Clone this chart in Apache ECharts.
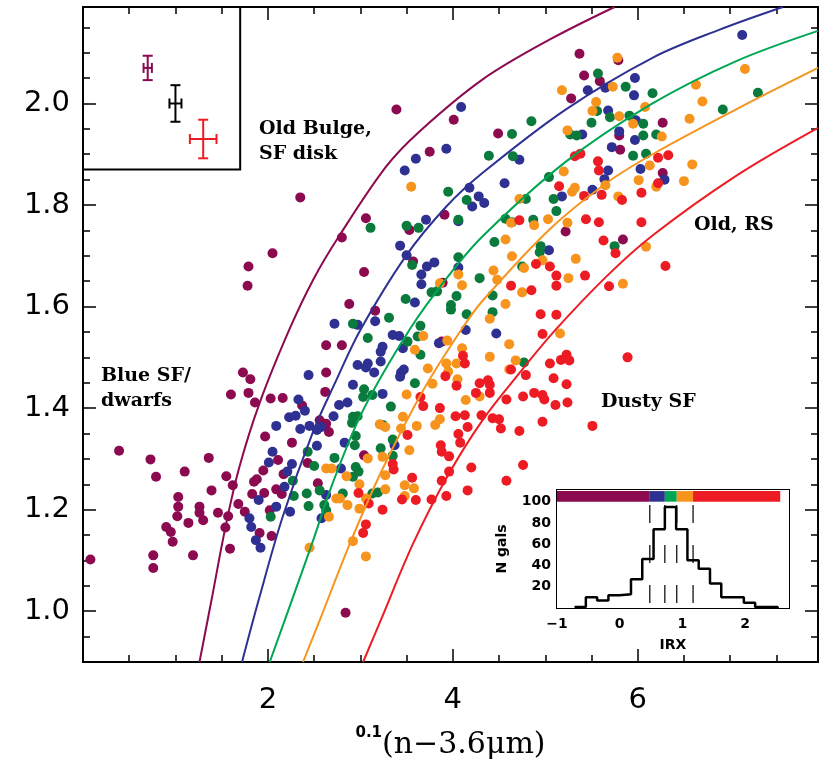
<!DOCTYPE html>
<html>
<head>
<meta charset="utf-8">
<script src="https://cdn.jsdelivr.net/npm/echarts@6/dist/echarts.min.js"></script>
<style>
  html, body { margin: 0; padding: 0; background: #fff; }
  #chart { width: 830px; height: 780px; }
</style>
</head>
<body>
<div id="chart"></div>
<script>
// galaxies, split by IRX bin (x = 0.1(n-3.6um), y = colour)
const purplePts = [
  [1.73,1.470],[1.81,1.457],[1.60,1.427],[1.79,1.430],[1.86,1.411],[2.03,1.419],[2.16,1.420],[2.37,1.405],[1.97,1.344],[2.26,1.332],
  [0.39,1.316],[0.73,1.299],[1.36,1.302],[0.79,1.265],[1.10,1.275],[1.55,1.266],[1.62,1.248],[1.88,1.260],[1.85,1.255],[1.95,1.277],
  [2.11,1.298],[2.17,1.270],[2.43,1.292],[1.39,1.238],[1.03,1.225],[1.83,1.231],[1.96,1.233],[2.09,1.240],[2.15,1.231],[1.03,1.206],
  [1.26,1.206],[1.02,1.187],[1.26,1.194],[1.30,1.179],[1.14,1.174],[1.46,1.194],[1.57,1.187],[1.68,1.211],[1.75,1.196],[2.02,1.199],
  [0.90,1.166],[0.95,1.156],[1.54,1.165],[1.91,1.154],[2.04,1.148],[0.97,1.137],[0.76,1.110],[1.19,1.110],[1.59,1.123],[0.76,1.085],
  [0.08,1.102],[2.35,1.815],[2.05,1.705],[1.79,1.679],[1.78,1.641],
  [3.39,1.988],[4.01,1.968],[3.75,1.905],[3.06,1.774],[2.80,1.736],[3.91,1.781],[3.53,1.751],[3.57,1.689],[3.04,1.668],[3.89,1.647],
  [2.88,1.605],[3.16,1.592],[5.37,2.098],[5.79,2.085],[5.42,2.055],[5.59,2.044],[5.28,2.010],[4.49,1.941],[5.80,1.937],[5.81,1.909],
  [5.22,1.748],[5.84,1.732],[6.27,1.962],[6.27,1.863],
  [2.63,1.524],[2.80,1.524],[3.88,1.531],[2.63,1.470],[2.62,1.432],[2.56,1.376],[2.63,1.369],[2.66,1.353],[3.04,1.307],[2.54,1.252],
  [2.84,0.997]
];
const bluePts = [
  [2.44,1.465],[2.33,1.417],[2.40,1.395],[2.23,1.382],[2.30,1.385],[2.09,1.365],[2.35,1.359],[2.45,1.365],[2.05,1.314],[2.01,1.293],
  [2.26,1.290],[2.21,1.275],[2.18,1.245],[1.90,1.219],[2.09,1.206],[2.24,1.196],[1.80,1.183],[1.82,1.166],[1.87,1.140],[1.92,1.125],
  [4.09,1.993],[3.93,1.911],[3.60,1.891],[3.48,1.868],[4.18,1.834],[4.28,1.817],[4.21,1.797],[3.71,1.771],[4.06,1.768],[3.43,1.720],
  [3.50,1.701],[3.72,1.679],[3.80,1.687],[3.66,1.663],[3.66,1.644],[4.06,1.677],[3.59,1.608],[2.72,1.566],[2.97,1.564],[3.16,1.571],
  [5.97,2.050],[5.46,2.026],[5.65,2.031],[5.96,2.016],[5.68,1.986],[5.98,1.967],[5.40,1.939],[5.80,1.945],[5.72,1.914],[5.97,1.928],
  [4.72,1.889],[5.68,1.868],[6.03,1.871],[5.64,1.851],[5.51,1.830],[5.18,1.817],[4.56,1.843],[4.34,1.804],[5.04,1.711],
  [7.13,2.135],[6.29,1.850],
  [3.35,1.544],[3.42,1.542],[3.24,1.521],[3.22,1.511],[3.46,1.518],[3.85,1.528],[4.14,1.554],[2.97,1.485],[3.08,1.488],[3.06,1.480],
  [3.22,1.492],[3.15,1.470],[3.44,1.470],[3.47,1.476],[3.43,1.462],[2.92,1.446],[3.24,1.428],[2.86,1.411],[2.77,1.406],[2.71,1.384],
  [2.53,1.357],[2.58,1.363],[2.53,1.326],[2.83,1.332],[3.37,1.327],[2.79,1.281],[2.63,1.229],[2.58,1.183],[4.47,1.547]
];
const greenPts = [
  [2.43,1.314],[2.27,1.257],[2.28,1.227],[2.42,1.232],[2.44,1.207],[2.03,1.186],
  [3.11,1.755],[3.50,1.759],[3.63,1.755],[3.95,1.826],[4.15,1.810],[4.06,1.771],[3.56,1.682],[4.06,1.697],[3.77,1.628],[3.83,1.630],
  [3.49,1.615],[4.04,1.621],[3.98,1.603],[3.98,1.594],[4.15,1.585],[3.31,1.578],[2.92,1.566],[3.65,1.562],[4.29,1.656],
  [5.57,2.059],[4.85,1.965],[4.64,1.940],[4.39,1.897],[4.65,1.896],[5.27,1.939],[5.34,1.937],[5.50,1.962],[5.56,1.985],[5.70,1.973],
  [5.87,2.033],[5.91,1.976],[6.06,1.960],[6.06,1.937],[5.95,1.897],[6.09,1.901],[6.16,2.020],[5.04,1.855],[4.79,1.812],[5.09,1.812],
  [5.12,1.788],[4.57,1.773],[4.64,1.766],[4.87,1.771],[4.45,1.727],[4.95,1.719],[4.94,1.707],[5.75,1.719],[4.75,1.679],[4.43,1.622],
  [4.43,1.589],[7.30,2.021],[6.92,1.988],[6.20,1.939],
  [3.08,1.538],[3.51,1.531],[3.62,1.541],[3.65,1.505],[3.59,1.449],[3.04,1.437],[3.13,1.426],[3.03,1.422],[3.33,1.403],[2.92,1.383],
  [2.97,1.384],[2.91,1.371],[3.24,1.367],[2.95,1.345],[2.94,1.327],[3.35,1.338],[3.22,1.321],[3.35,1.306],[2.72,1.302],[2.50,1.286],
  [2.95,1.284],[2.98,1.275],[2.92,1.265],[2.56,1.238],[2.81,1.232],[3.13,1.232],[3.19,1.234],[2.61,1.209],[2.63,1.199],[4.77,1.490]
];
const orangePts = [
  [2.45,1.125],[3.55,1.836],[3.86,1.646],[4.06,1.663],[4.10,1.642],
  [5.78,2.090],[5.18,2.026],[5.73,2.033],[5.55,2.003],[5.51,1.985],[5.80,1.975],[5.95,1.960],[6.08,1.993],[5.24,1.947],[5.20,1.866],
  [5.32,1.834],[5.29,1.826],[5.65,1.839],[5.79,1.817],[6.01,1.849],[6.13,1.878],[4.72,1.812],[5.03,1.772],[4.88,1.760],[5.24,1.765],
  [4.63,1.765],[4.57,1.732],[4.64,1.699],[4.97,1.691],[4.77,1.676],[5.33,1.694],[4.44,1.671],[4.48,1.653],[5.25,1.656],[4.75,1.628],
  [4.57,1.605],[5.84,1.645],[4.40,1.576],[6.09,1.718],
  [7.16,2.068],[6.63,2.037],[6.70,2.004],[6.56,1.970],[6.26,1.935],[6.59,1.880],[6.50,1.847],[6.20,1.836],
  [3.68,1.542],[3.59,1.515],[3.94,1.533],[4.10,1.518],[3.73,1.478],[3.93,1.488],[3.95,1.472],[4.04,1.488],[4.05,1.457],[3.78,1.448],
  [3.50,1.427],[3.46,1.383],[3.21,1.368],[3.27,1.363],[3.44,1.360],[3.61,1.365],[3.81,1.367],[3.86,1.378],[4.14,1.416],[4.29,1.423],
  [3.53,1.317],[3.08,1.301],[3.24,1.304],[2.63,1.281],[2.69,1.281],[2.85,1.266],[3.27,1.268],[2.99,1.250],[3.27,1.240],[3.48,1.248],
  [3.58,1.242],[3.48,1.227],[2.74,1.222],[2.78,1.222],[2.86,1.209],[3.06,1.222],[2.99,1.202],[2.66,1.186],[2.92,1.138],[3.06,1.108],
  [5.16,1.547],[4.61,1.526],[4.40,1.501],[4.68,1.494],[4.61,1.476]
];
const redPts = [
  [5.32,1.896],[5.38,1.901],[5.57,1.886],[5.58,1.868],[5.15,1.837],[5.42,1.818],[5.61,1.820],[5.83,1.810],[6.04,1.824],[4.72,1.770],
  [5.44,1.772],[5.58,1.766],[6.04,1.766],[5.63,1.730],[5.76,1.705],[4.90,1.684],[5.05,1.679],[5.12,1.661],[5.12,1.641],[5.43,1.661],
  [4.63,1.641],[4.85,1.632],[5.69,1.640],[4.95,1.585],[5.12,1.584],
  [6.22,1.893],[6.33,1.898],[6.22,1.843],[6.30,1.680],
  [4.11,1.503],[4.13,1.488],[3.92,1.463],[4.04,1.444],[4.29,1.449],[4.25,1.430],[3.65,1.422],[3.68,1.404],[3.86,1.400],[4.03,1.384],
  [4.13,1.386],[4.31,1.386],[4.16,1.363],[3.51,1.347],[4.06,1.349],[4.08,1.332],[3.87,1.327],[3.88,1.314],[3.96,1.305],[3.35,1.290],
  [3.36,1.279],[4.20,1.283],[3.56,1.263],[3.96,1.275],[3.88,1.257],[4.16,1.238],[2.98,1.233],[3.45,1.220],[3.60,1.219],[3.77,1.220],
  [3.93,1.227],[3.09,1.212],[3.24,1.200],[3.06,1.171],[3.03,1.154],
  [4.97,1.546],[4.63,1.476],[4.79,1.465],[5.05,1.488],[5.17,1.495],[5.23,1.505],[5.26,1.494],[5.89,1.500],[4.38,1.455],[4.40,1.446],
  [5.09,1.459],[5.23,1.447],[4.40,1.430],[4.58,1.417],[4.76,1.423],[4.88,1.430],[4.97,1.426],[4.99,1.417],[5.11,1.406],[5.24,1.411],
  [4.43,1.380],[4.50,1.378],[4.52,1.360],[4.72,1.355],[4.97,1.373],[5.51,1.365],[4.76,1.288],[4.58,1.257]
];

// model tracks
const curvePurple = [[1.26,0.90],[1.39,1.022],[1.54,1.165],[1.69,1.283],[1.91,1.410],[2.23,1.554],[2.49,1.653],[2.76,1.736],[3.28,1.876],[3.64,1.945],[4.32,2.047],[5.05,2.126],[5.75,2.19]];
const curveBlue = [[1.72,0.90],[1.90,1.022],[2.16,1.186],[2.49,1.354],[2.74,1.455],[3.00,1.554],[3.49,1.699],[3.93,1.797],[4.32,1.863],[5.22,1.988],[6.16,2.090],[6.88,2.145],[7.57,2.19]];
const curveGreen = [[2.02,0.90],[2.26,1.022],[2.49,1.14],[2.70,1.252],[3.03,1.396],[3.53,1.554],[3.93,1.655],[4.32,1.738],[5.22,1.885],[6.16,2.000],[7.06,2.083],[7.95,2.143]];
const curveOrange = [[2.38,0.90],[2.56,0.982],[2.90,1.139],[3.24,1.280],[3.68,1.435],[4.09,1.554],[4.32,1.611],[5.04,1.751],[5.66,1.843],[6.16,1.900],[7.06,1.988],[7.95,2.070]];
const curveRed = [[3.03,0.90],[3.22,0.982],[3.57,1.133],[3.93,1.262],[4.32,1.376],[4.72,1.469],[5.11,1.554],[5.66,1.659],[6.16,1.740],[7.06,1.857],[7.95,1.952]];

// typical error bars: x, y, xerr, yerr
const errBars = [[0.70,2.070,0.045,0.024],[1.00,2.000,0.065,0.036],[1.30,1.930,0.144,0.038]];
const errBox = [[0, 1.70, 1.87, 2.19]];

// IRX histogram
const histEdges = [-0.72,-0.54,-0.36,-0.18,0,0.18,0.36,0.54,0.72,0.90,1.08,1.26,1.44,1.62,1.80,1.98,2.16,2.34,2.52];
const histCounts = [1,10,7,12,13,27,46,74,95,74,45,37,23,10,10,5,1,1];
const irxCuts = [0.48,0.72,0.91,1.17];
const barSegs = [[-1,0.48],[0.48,0.72],[0.72,0.91],[0.91,1.17],[1.17,2.56]];

// ticks
const xMajor = [2,4,6];
const xMinor = [0.5,1,1.5,2.5,3,3.5,4.5,5,5.5,6.5,7,7.5];
const yMajor = [1.0,1.2,1.4,1.6,1.8,2.0];
const yMinor = [0.95,1.05,1.1,1.15,1.25,1.3,1.35,1.45,1.5,1.55,1.65,1.7,1.75,1.85,1.9,1.95,2.05,2.1,2.15];
const hxTicks = [-1,0,1,2];
const hyTicks = [20,40,60,80,100];
const hyMinor = [5,10,15,25,30,35,45,50,55,65,70,75,85,90,95,105];

const C = {
  purple: '#8B0A50', blue: '#2E3192', greenDot: '#0B7A3D', greenLine: '#00A651',
  orange: '#F7941D', red: '#ED1C24'
};
const barColors = [C.purple, C.blue, C.greenLine, C.orange, C.red];
const errColors = [C.purple, '#000000', C.red];

const chart = echarts.init(document.getElementById('chart'));

function axis(dim, grid, pos, min, max, ticks, len, extra) {
  return Object.assign({
    type: 'value', gridIndex: grid, position: pos, min: min, max: max,
    axisLine: { show: true, onZero: false, lineStyle: { color: '#000', width: 2 } },
    axisTick: { show: true, inside: true, length: len, customValues: ticks, lineStyle: { color: '#000', width: 1.5 } },
    axisLabel: { show: false },
    splitLine: { show: false }
  }, extra || {});
}

const bigLabel = { color: '#000', fontFamily: 'DejaVu Sans', fontSize: 29 };
const smallLabel = { color: '#000', fontFamily: 'DejaVu Sans', fontWeight: 'bold', fontSize: 14 };

const xAxes = [
  axis('x', 0, 'bottom', 0, 7.95, xMajor, 13, {
    axisLabel: Object.assign({ customValues: xMajor, margin: 24 }, bigLabel),
    name: '{s|0.1}{m|(n\u22123.6\u03bcm)}',
    nameLocation: 'middle',
    nameGap: 64,
    nameTextStyle: {
      rich: {
        s: { fontFamily: 'DejaVu Sans', fontWeight: 'bold', fontSize: 15, lineHeight: 16, verticalAlign: 'top', color: '#000' },
        m: { fontFamily: 'DejaVu Serif', fontSize: 30, lineHeight: 38, color: '#000' }
      }
    }
  }),
  axis('x', 0, 'bottom', 0, 7.95, xMinor, 7),
  axis('x', 0, 'top', 0, 7.95, xMajor, 13),
  axis('x', 0, 'top', 0, 7.95, xMinor, 7),
  axis('x', 1, 'bottom', -1, 2.7, hxTicks, 5, {
    axisLabel: Object.assign({ customValues: hxTicks, margin: 9, formatter: v => v < 0 ? '\u2212' + Math.abs(v) : String(v) }, smallLabel),
    name: 'IRX', nameLocation: 'middle', nameGap: 30,
    nameTextStyle: { color: '#000', fontFamily: 'DejaVu Sans', fontWeight: 'bold', fontSize: 14 }
  }),
  axis('x', 1, 'top', -1, 2.7, hxTicks, 5)
];

const yAxes = [
  axis('y', 0, 'left', 0.9, 2.19, yMajor, 13, {
    axisLabel: Object.assign({ customValues: yMajor, margin: 13, formatter: v => v.toFixed(1) }, bigLabel)
  }),
  axis('y', 0, 'left', 0.9, 2.19, yMinor, 7),
  axis('y', 0, 'right', 0.9, 2.19, yMajor, 13),
  axis('y', 0, 'right', 0.9, 2.19, yMinor, 7),
  axis('y', 1, 'left', 0, 111, hyTicks, 6, {
    axisLabel: Object.assign({ customValues: hyTicks, margin: 6 }, smallLabel),
    name: 'N gals', nameLocation: 'middle', nameRotate: 90, nameGap: 48,
    nameTextStyle: { color: '#000', fontFamily: 'DejaVu Sans', fontWeight: 'bold', fontSize: 14 }
  }),
  axis('y', 1, 'left', 0, 111, hyMinor, 3),
  axis('y', 1, 'right', 0, 111, hyTicks, 6),
  axis('y', 1, 'right', 0, 111, hyMinor, 3)
];

function dots(pts, color) {
  return {
    type: 'scatter', xAxisIndex: 0, yAxisIndex: 0, data: pts, symbolSize: 10,
    itemStyle: { color: color, opacity: 1 }, z: 2
  };
}
function track(pts, color) {
  return {
    type: 'line', xAxisIndex: 0, yAxisIndex: 0, data: pts, smooth: 0.35,
    showSymbol: false, lineStyle: { color: color, width: 2 }, z: 3
  };
}

const histLine = histEdges.map((e, i) => [e, i < histCounts.length ? histCounts[i] : 0]);

const option = {
  animation: false,
  backgroundColor: '#fff',
  grid: [
    { left: 83, right: 12, top: 7, bottom: 118 },
    { left: 557, right: 41, top: 490, bottom: 172, show: true, backgroundColor: '#fff', borderWidth: 0, z: 5 }
  ],
  xAxis: xAxes,
  yAxis: yAxes,
  series: [
    dots(purplePts, C.purple),
    dots(bluePts, C.blue),
    dots(greenPts, C.greenDot),
    dots(orangePts, C.orange),
    dots(redPts, C.red),
    track(curvePurple, C.purple),
    track(curveBlue, C.blue),
    track(curveGreen, C.greenLine),
    track(curveOrange, C.orange),
    track(curveRed, C.red),
    {
      // frame round the error-bar key
      type: 'custom', xAxisIndex: 0, yAxisIndex: 0, data: errBox, z: 4,
      renderItem: (params, api) => {
        const a = api.coord([api.value(0), api.value(3)]);
        const b = api.coord([api.value(1), api.value(2)]);
        return { type: 'rect', shape: { x: a[0], y: a[1], width: b[0] - a[0], height: b[1] - a[1] },
          style: { fill: 'none', stroke: '#000', lineWidth: 2 } };
      }
    },
    {
      type: 'custom', xAxisIndex: 0, yAxisIndex: 0, data: errBars, z: 5,
      renderItem: (params, api) => {
        const x = api.value(0), y = api.value(1), dx = api.value(2), dy = api.value(3);
        const l = api.coord([x - dx, y]), r = api.coord([x + dx, y]);
        const t = api.coord([x, y + dy]), b = api.coord([x, y - dy]);
        const s = { stroke: errColors[params.dataIndex], lineWidth: 2 };
        const seg = (x1, y1, x2, y2) => ({ type: 'line', shape: { x1, y1, x2, y2 }, style: s });
        return { type: 'group', children: [
          seg(l[0], l[1], r[0], r[1]),
          seg(t[0], t[1], b[0], b[1]),
          seg(t[0] - 5, t[1], t[0] + 5, t[1]),
          seg(b[0] - 5, b[1], b[0] + 5, b[1]),
          seg(l[0], l[1] - 5, l[0], l[1] + 5),
          seg(r[0], r[1] - 5, r[0], r[1] + 5)
        ] };
      }
    },
    {
      type: 'line', xAxisIndex: 4, yAxisIndex: 4, data: histLine, step: 'end', showSymbol: false,
      lineStyle: { color: '#000', width: 2.5 }, z: 6
    },
    {
      type: 'custom', xAxisIndex: 4, yAxisIndex: 4, data: irxCuts.map(v => [v, 0]), z: 6,
      renderItem: (params, api) => {
        const top = api.coord([api.value(0), 97]);
        const bot = api.coord([api.value(0), 0]);
        return { type: 'line', shape: { x1: top[0], y1: top[1], x2: bot[0], y2: bot[1] },
          style: { stroke: '#000', lineWidth: 1.2, lineDash: [18, 22] } };
      }
    },
    {
      type: 'custom', xAxisIndex: 4, yAxisIndex: 4, data: barSegs, z: 6,
      renderItem: (params, api) => {
        const a = api.coord([api.value(0), 110]);
        const b = api.coord([api.value(1), 100]);
        return { type: 'rect', shape: { x: a[0], y: a[1], width: b[0] - a[0], height: b[1] - a[1] },
          style: { fill: barColors[params.dataIndex] } };
      }
    }
  ],
  graphic: [
    { type: 'text', left: 259, top: 117, z: 10,
      style: { text: 'Old Bulge,\nSF disk', fontFamily: 'DejaVu Serif', fontWeight: 'bold', fontSize: 19, lineHeight: 25, fill: '#000' } },
    { type: 'text', left: 101, top: 364, z: 10,
      style: { text: 'Blue SF/\ndwarfs', fontFamily: 'DejaVu Serif', fontWeight: 'bold', fontSize: 19, lineHeight: 25, fill: '#000' } },
    { type: 'text', left: 694, top: 213, z: 10,
      style: { text: 'Old, RS', fontFamily: 'DejaVu Serif', fontWeight: 'bold', fontSize: 19, lineHeight: 25, fill: '#000' } },
    { type: 'text', left: 601, top: 390, z: 10,
      style: { text: 'Dusty SF', fontFamily: 'DejaVu Serif', fontWeight: 'bold', fontSize: 19, lineHeight: 25, fill: '#000' } }
  ]
};

chart.setOption(option);
</script>
</body>
</html>
